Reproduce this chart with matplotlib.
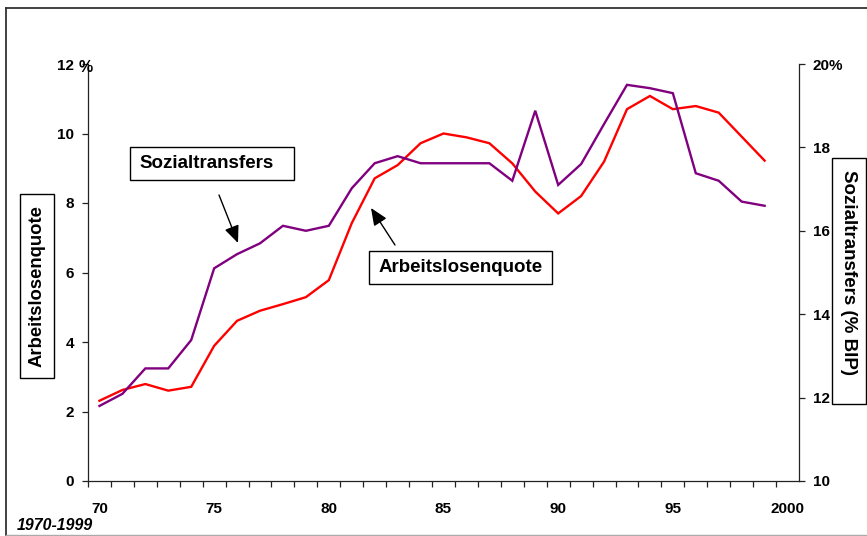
import matplotlib
matplotlib.use("Agg")
import matplotlib.pyplot as plt
from matplotlib.lines import Line2D
from matplotlib.patches import FancyArrowPatch, Rectangle

plt.rcParams['font.family'] = ['Liberation Sans', 'DejaVu Sans']

years = list(range(1970, 2000))
arbeitslosenquote = [2.31, 2.62, 2.79, 2.60, 2.71, 3.89, 4.61, 4.90, 5.09, 5.29,
                     5.78, 7.42, 8.71, 9.09, 9.72, 10.00, 9.89, 9.72, 9.14, 8.33,
                     7.70, 8.20, 9.19, 10.70, 11.08, 10.70, 10.79, 10.60, 9.91, 9.22]
sozialtransfers = [11.80, 12.09, 12.70, 12.70, 13.38, 15.10, 15.44, 15.70, 16.12, 16.00,
                   16.12, 17.02, 17.62, 17.79, 17.62, 17.62, 17.62, 17.62, 17.20, 18.88,
                   17.10, 17.60, 18.56, 19.50, 19.42, 19.30, 17.38, 17.20, 16.70, 16.60]
x_tick_labels = ['70', '75', '80', '85', '90', '95', '2000']
x_tick_years = [1970, 1975, 1980, 1985, 1990, 1995, 2000]
left_ticks = [0, 2, 4, 6, 8, 10, 12]
left_labels = ['0', '2', '4', '6', '8', '10', '12']
right_ticks = [10, 12, 14, 16, 18, 20]
right_labels = ['10', '12', '14', '16', '18', '20%']

W, H = 867, 536
fig = plt.figure(figsize=(W / 100, H / 100), dpi=100)
fig.patch.set_facecolor('white')


def fx(px):
    return px / W


def fy(py):
    return 1 - py / H


# outer frame
fig.add_artist(Line2D([fx(5.5), fx(5.5)], [fy(7.5), fy(535)], transform=fig.transFigure,
                      color='#333333', lw=1.3))
fig.add_artist(Line2D([fx(5.5), 1.0], [fy(7.5), fy(7.5)], transform=fig.transFigure,
                      color='#333333', lw=1.3))
fig.add_artist(Line2D([fx(5.5), 1.0], [fy(535), fy(535)], transform=fig.transFigure,
                      color='#aaaaaa', lw=1.0))

ax_l, ax_r, ax_t, ax_b = 88, 799, 64, 481
ax = fig.add_axes([fx(ax_l), fy(ax_b), (ax_r - ax_l) / W, (ax_b - ax_t) / H])
ax2 = ax.twinx()

ax.plot(years, arbeitslosenquote, color='#FF0000', lw=1.7, solid_joinstyle='miter', zorder=3)
ax2.plot(years, sozialtransfers, color='#800080', lw=1.7, solid_joinstyle='miter', zorder=3)

ax.set_xlim(1969.5, 2000.5)
ax.set_ylim(0, 12)
ax2.set_ylim(10, 20)

for a in (ax, ax2):
    a.spines['top'].set_visible(False)
    a.patch.set_visible(False)
ax.spines['right'].set_visible(False)
ax2.spines['left'].set_visible(False)
ax2.spines['bottom'].set_visible(False)
for a in (ax, ax2):
    for s in a.spines.values():
        s.set_color('#222222')
        s.set_linewidth(0.9)

TF = 11
ax.set_xticks(x_tick_years)
ax.set_xticklabels(x_tick_labels, fontsize=TF, fontweight='bold')
ax.set_xticks([y + 0.5 for y in range(1969, 2000)], minor=True)
ax.tick_params(axis='x', which='major', length=0, pad=15)
ax.tick_params(axis='x', which='minor', length=4, width=0.9, direction='out', color='#222222')

ax.set_yticks(left_ticks)
ax.set_yticklabels(left_labels, fontsize=TF, fontweight='bold')
ax.tick_params(axis='y', length=4, width=0.9, direction='out', pad=6, color='#222222')

ax2.set_yticks(right_ticks)
ax2.set_yticklabels(right_labels, fontsize=TF, fontweight='bold')
ax2.tick_params(axis='y', length=4, width=0.9, direction='out', pad=6, color='#222222')

# percent sign after left "12"
fig.text(fx(79), fy(68), '%', fontsize=TF + 0.5, fontweight='bold', ha='left', va='center')


def boxed(x0, y0, x1, y1):
    fig.add_artist(Rectangle((fx(x0), fy(y1)), (x1 - x0) / W, (y1 - y0) / H,
                             transform=fig.transFigure, fc='white', ec='black', lw=1.0, zorder=4))


# axis labels as boxed texts
boxed(20, 194, 54, 378)
fig.text(fx(37), fy(286), 'Arbeitslosenquote', rotation=90, fontsize=13.3, fontweight='bold',
         ha='center', va='center', zorder=5)
boxed(832, 158, 866, 404)
fig.text(fx(849), fy(272), 'Sozialtransfers (% BIP)', rotation=270, fontsize=13.5, fontweight='bold',
         ha='center', va='center', zorder=5)

# annotation boxes
boxed(130, 147, 294, 180)
fig.text(fx(207), fy(163.5), 'Sozialtransfers', fontsize=13.5, fontweight='bold',
         ha='center', va='center', zorder=5)
boxed(369, 251, 552, 284)
fig.text(fx(461), fy(267.5), 'Arbeitslosenquote', fontsize=13.5, fontweight='bold',
         ha='center', va='center', zorder=5)

arrow = dict(arrowstyle='-|>,head_length=0.7,head_width=0.3', color='black', lw=1.0,
             mutation_scale=15, shrinkA=0, shrinkB=0)
fig.add_artist(FancyArrowPatch((fx(219), fy(195)), (fx(238), fy(243)),
                               transform=fig.transFigure, **arrow))
fig.add_artist(FancyArrowPatch((fx(395), fy(245)), (fx(371), fy(208)),
                               transform=fig.transFigure, **arrow))

fig.text(fx(17), fy(525), '1970-1999', fontsize=11.4, fontweight='bold', fontstyle='italic',
         ha='left', va='center')

fig.savefig('out.png', dpi=100)
